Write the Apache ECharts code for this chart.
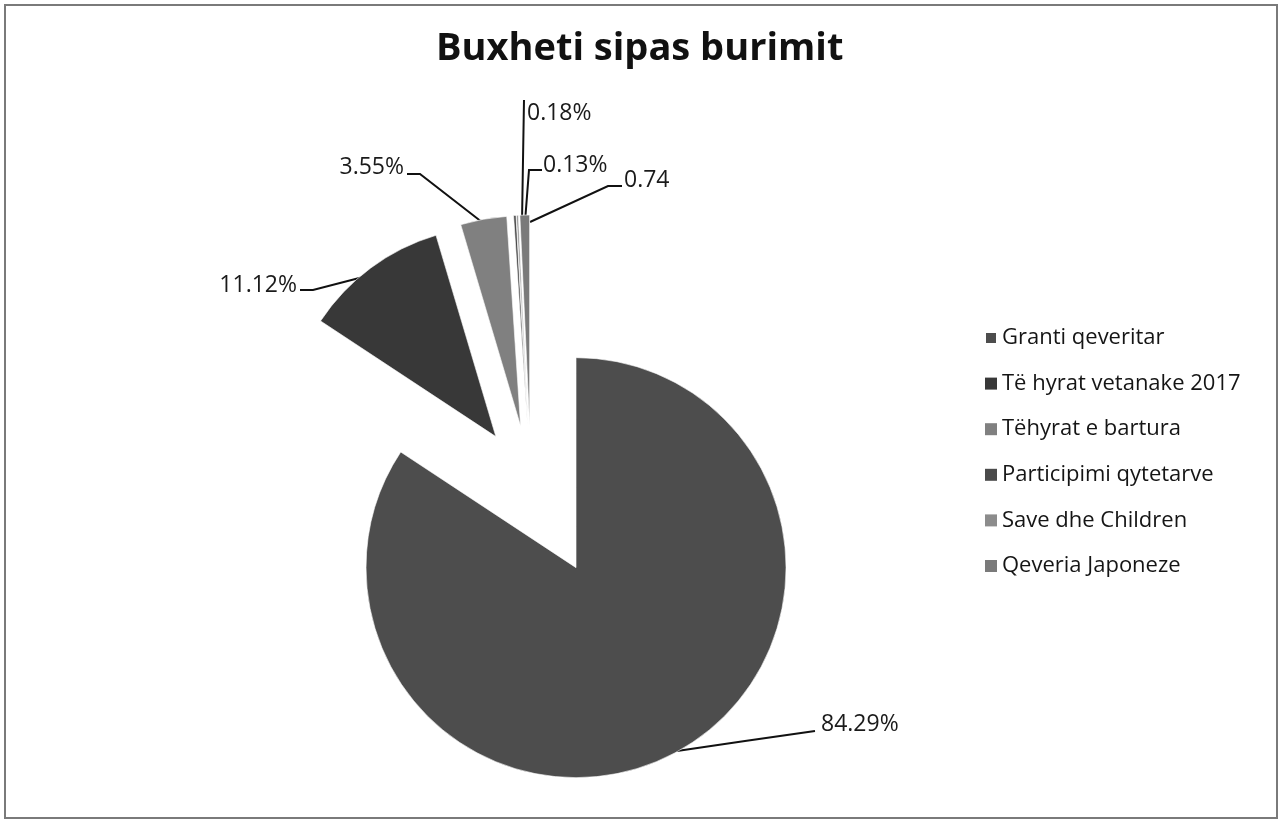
<!DOCTYPE html>
<html><head><meta charset="utf-8">
<script src="https://cdn.jsdelivr.net/npm/echarts@6/dist/echarts.min.js"></script>
<style>
html,body{margin:0;padding:0;background:#fff;}
#frame{position:absolute;left:4px;top:4px;width:1270px;height:811px;border:2px solid #7a7a7a;}
#chart{position:absolute;left:0;top:0;width:1279px;height:823px;}
</style></head><body>
<div id="frame"></div>
<div id="chart"></div>
<script>
const title = 'Buxheti sipas burimit';
const categories = ['Granti qeveritar','Të hyrat vetanake 2017','Tëhyrat e bartura','Participimi qytetarve','Save dhe Children','Qeveria Japoneze'];
const values = [84.29, 11.12, 3.55, 0.18, 0.13, 0.74];
const labelTexts = ['84.29%','11.12%','3.55%','0.18%','0.13%','0.74'];
const colors = ['#4d4d4d','#383838','#808080','#4a4a4a','#8c8c8c','#7a7a7a'];

const FONT = "'Open Sans', Lato, sans-serif";
const OFFSETS = [95, 59, 59, 59, 59, 59];
// label anchor positions (x, y, align) and leader-line points (page pixels)
const labelPos = [
  [821, 724, 'left',  [[677,751],[745,741],[815,731]]],
  [297, 285, 'right', [[300,290],[313,290],[367,276]]],
  [404, 167, 'right', [[407,174],[420,174],[487,226]]],
  [527, 113, 'left',  [[524,100],[523,160],[522,222]]],
  [543, 165, 'left',  [[542,170],[529,170],[525,222]]],
  [624, 180, 'left',  [[622,186],[608,186],[530,222]]]
];

// translation applied to each exploded slice (labels and lines live in slice space)
const total = values.reduce((a,b)=>a+b,0);
const shift = [];
{ let acc = 0;
  values.forEach((v,i)=>{
    const mid = (acc + v/2)/total*2*Math.PI; acc += v;
    shift.push([OFFSETS[i]*Math.sin(mid), -OFFSETS[i]*Math.cos(mid)]);
  });
}

function buildData(visibleFn){
  return categories.map((c,i)=>{
    const vis = visibleFn(i);
    return {
      name: c, value: values[i], selected: vis,
      itemStyle: {color: vis ? colors[i] : 'rgba(0,0,0,0)', borderColor: vis ? '#fff' : 'rgba(0,0,0,0)', borderWidth: vis ? 0.6 : 0},
      label: {show: vis},
      labelLine: {show: vis}
    };
  });
}
function makeSeries(visibleFn, offset){
  return {
    type: 'pie',
    center: [531, 484],
    radius: 210,
    startAngle: 90,
    clockwise: true,
    selectedMode: 'multiple',
    selectedOffset: offset,
    avoidLabelOverlap: false,
    emphasis: {disabled: true},
    animation: false,
    data: buildData(visibleFn),
    label: {
      position: 'outside', alignTo: 'none',
      formatter: p => labelTexts[p.dataIndex],
      fontFamily: FONT, fontSize: 23, color: '#1a1a1a'
    },
    labelLine: {lineStyle: {color: '#111', width: 2}, length: 20, length2: 20},
    labelLayout: function(p){
      const i = p.dataIndex;
      const lp = labelPos[i];
      const r = p.labelRect;
      const curX = lp[2] === 'left' ? r.x : r.x + r.width;
      const curY = r.y + r.height/2;
      const pts = lp[3].map(q => [q[0]-shift[i][0], q[1]-shift[i][1]]);
      return {dx: lp[0]-curX-shift[i][0], dy: lp[1]-curY-shift[i][1], labelLinePoints: pts, hideOverlap: false};
    }
  };
}

const chart = echarts.init(document.getElementById('chart'), null, {renderer:'canvas'});
chart.setOption({
  animation: false,
  title: {
    text: title, left: 431, top: 25,
    textStyle: {fontFamily: FONT, fontWeight: 'bold', fontSize: 38, color: '#111'}
  },
  legend: {
    orient: 'vertical', left: 979, top: 322,
    itemWidth: 12, itemHeight: 12, itemGap: 23.6, selectedMode: false,
    textStyle: {fontFamily: FONT, fontSize: 22, lineHeight: 22, color: '#151515'},
    data: categories.map((c,i)=>({name: c, icon: 'rect', itemStyle: {color: colors[i]}}))
  },
  series: [
    makeSeries(i => i === 0, 95),
    makeSeries(i => i !== 0, 59)
  ]
});
</script>
</body></html>
